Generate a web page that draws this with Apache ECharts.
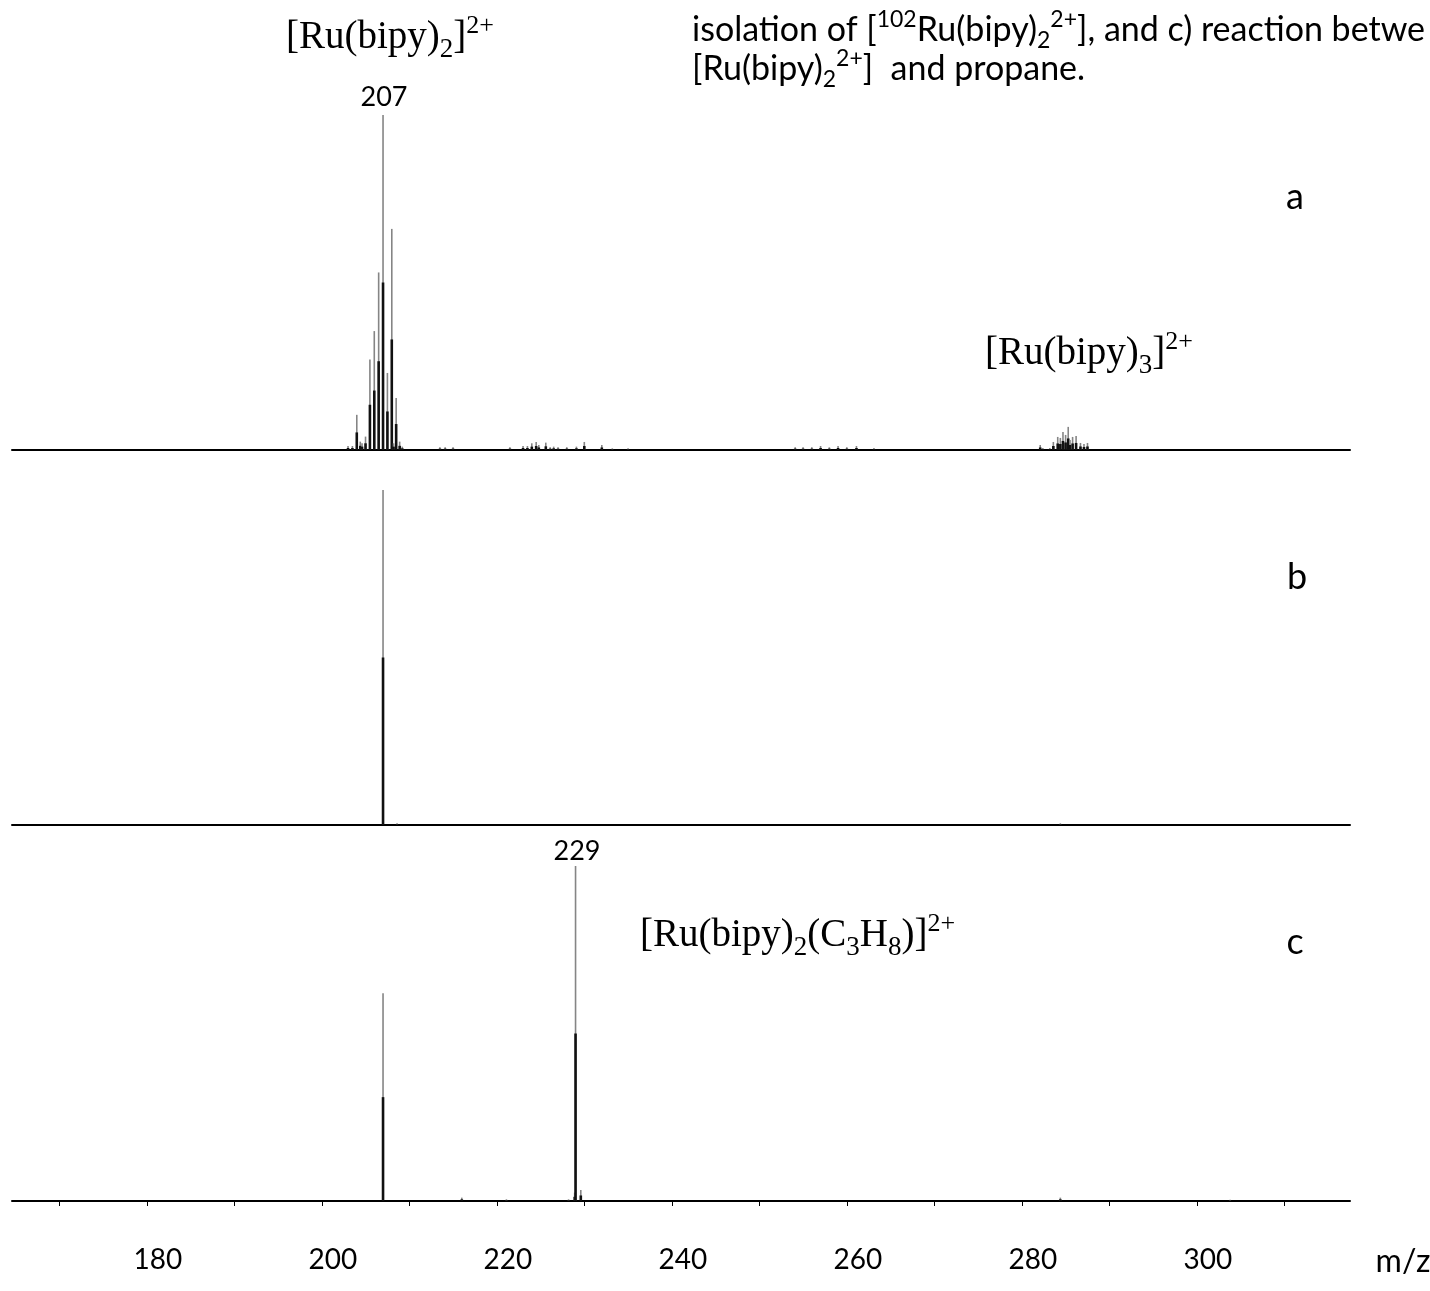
<!DOCTYPE html>
<html lang="en">
<head>
  <meta charset="UTF-8">
  <title>Ru(bipy)2 mass spectra</title>
  <style>
    * { margin: 0; padding: 0; }
    body { background: #fff; overflow: hidden; }
    #chart { width: 1430px; height: 1291px; }
  </style>
</head>
<body>
  <div id="chart"></div>
  <script src="https://cdn.jsdelivr.net/npm/echarts@6/dist/echarts.min.js"></script>
  <script>
    // m/z range shown on every panel
    const mzMin = 164.6;
    const mzMax = 317.5;
    const tickValues = [170, 180, 190, 200, 210, 220, 230, 240, 250, 260, 270, 280, 290, 300, 310];
    const labelValues = [180, 200, 220, 240, 260, 280, 300];

    // a) full spectrum
    const mzA = [203.0, 203.5, 204.0, 204.4, 204.6, 205.0, 205.5, 206.0, 206.5, 207.0, 207.5, 208.0, 208.2, 208.5, 208.9, 209.2,
      213.5, 214.1, 215.0, 221.5, 223.0, 223.5, 224.0, 224.5, 224.8, 225.6, 226.1, 226.5, 227.0, 228.0, 229.1, 230.0, 232.0, 233.2, 235.0,
      254.1, 255.0, 256.0, 257.0, 258.0, 259.0, 260.0, 261.1, 263.1,
      282.1, 282.4, 283.2, 283.6, 284.1, 284.4, 284.7, 285.0, 285.3, 285.5, 285.8, 286.2, 286.7, 287.1, 287.5];
    const intA = [1.2, 1.2, 10.5, 2.5, 2, 4, 27, 35.5, 53, 100, 23, 66, 2, 15.5, 2.5, 1,
      0.8, 0.8, 0.8, 0.8, 1.2, 1.2, 2, 2.4, 1.5, 2.2, 0.8, 1, 0.8, 0.8, 1, 2.4, 1.5, 0.5, 0.5,
      0.8, 0.8, 0.8, 1.2, 0.8, 1.2, 0.8, 1.2, 0.6,
      1.5, 0.6, 0.6, 2.4, 3.9, 3.6, 5.4, 4.5, 6.9, 3, 3.9, 4.2, 2.1, 1.8, 2.1];

    // b) isolation of 102Ru(bipy)2 2+
    const mzB = [207.0, 208.6, 284.4];
    const intB = [100, 0.5, 0.5];

    // c) reaction with propane
    const mzC = [207.0, 216.0, 221.1, 228.2, 228.9, 229.0, 229.6, 284.4, 303.8];
    const intC = [62, 1, 0.5, 0.5, 2.5, 100, 3.3, 1, 0.4];

    const pairs = (mz, inten) => mz.map((m, i) => [m, inten[i]]);

    // each peak: thin grey stick, darker thick lower half (scan look of the original)
    function renderStick(params, api) {
      const m = api.value(0);
      const h = api.value(1);
      const base = api.coord([m, 0]);
      const top = api.coord([m, h]);
      const mid = api.coord([m, h / 2]);
      return {
        type: 'group',
        children: [
          { type: 'line', shape: { x1: base[0], y1: base[1], x2: top[0], y2: top[1] },
            style: { stroke: '#858585', lineWidth: 1.6 } },
          { type: 'line', shape: { x1: base[0], y1: base[1], x2: mid[0], y2: mid[1] },
            style: { stroke: '#111', lineWidth: 2.6 } }
        ]
      };
    }

    const gridTops = [115, 490, 866];
    const grids = gridTops.map(t => ({ left: 12, width: 1338, top: t, height: 335 }));

    const xAxes = [0, 1, 2].map(i => ({
      type: 'value',
      gridIndex: i,
      min: mzMin,
      max: mzMax,
      splitLine: { show: false },
      axisLine: { show: true, lineStyle: { color: '#000', width: 2 } },
      axisTick: i === 2
        ? { show: true, customValues: tickValues, length: 5, lineStyle: { color: '#000', width: 1 } }
        : { show: false },
      axisLabel: i === 2
        ? { show: true, customValues: labelValues, margin: 45, padding: [0, 0, 0, 22],
            fontFamily: 'Lato', fontSize: 28, color: '#000' }
        : { show: false }
    }));

    const yAxes = [0, 1, 2].map(i => ({
      type: 'value', gridIndex: i, min: 0, max: 100, show: false
    }));

    const spectra = [pairs(mzA, intA), pairs(mzB, intB), pairs(mzC, intC)];
    const series = spectra.map((d, i) => ({
      type: 'custom',
      xAxisIndex: i,
      yAxisIndex: i,
      renderItem: renderStick,
      data: d,
      silent: true
    }));

    const serif = 'Liberation Serif';
    const serifRich = {
      m: { fontFamily: serif, fontSize: 39, color: '#000', lineHeight: 50 },
      sb: { fontFamily: serif, fontSize: 27, color: '#000', verticalAlign: 'bottom' },
      sp: { fontFamily: serif, fontSize: 26, color: '#000', verticalAlign: 'top' }
    };
    const sansRich = {
      m: { fontFamily: 'Lato', fontSize: 34, color: '#000', lineHeight: 44 },
      sb: { fontFamily: 'Lato', fontSize: 23, color: '#000', verticalAlign: 'bottom' },
      sp: { fontFamily: 'Lato', fontSize: 23, color: '#000', verticalAlign: 'top' }
    };

    function richText(x, y, text, rich) {
      return {
        type: 'text', x: x, y: y, silent: true,
        style: { text: text, rich: rich, align: 'left', verticalAlign: 'middle' }
      };
    }
    function plainText(x, y, text, size) {
      return {
        type: 'text', x: x, y: y, silent: true,
        style: { text: text, fontFamily: 'Lato', fontSize: size, fill: '#000', align: 'center', verticalAlign: 'middle' }
      };
    }

    const graphics = [
      richText(286, 38, '{m|[Ru(bipy)}{sb|2}{m|]}{sp|2+}', serifRich),
      plainText(384, 97, '207', 27),
      richText(692, 30, '{m|isolation of [}{sp|102}{m|Ru(bipy)}{sb|2}{sp|2+}{m|], and c) reaction betwe}', sansRich),
      richText(692, 69, '{m|[Ru(bipy)}{sb|2}{sp|2+}{m|]  and propane.}', sansRich),
      richText(985, 354, '{m|[Ru(bipy)}{sb|3}{m|]}{sp|2+}', serifRich),
      plainText(577, 851, '229', 27),
      richText(640, 936, '{m|[Ru(bipy)}{sb|2}{m|(C}{sb|3}{m|H}{sb|8}{m|)]}{sp|2+}', serifRich),
      plainText(1295, 197, 'a', 36),
      plainText(1297, 577, 'b', 36),
      plainText(1295, 942, 'c', 36),
      plainText(1403, 1262, 'm/z', 32)
    ];

    const chart = echarts.init(document.getElementById('chart'));
    chart.setOption({
      animation: false,
      backgroundColor: '#fff',
      grid: grids,
      xAxis: xAxes,
      yAxis: yAxes,
      series: series,
      graphic: graphics
    });
  </script>
</body>
</html>
